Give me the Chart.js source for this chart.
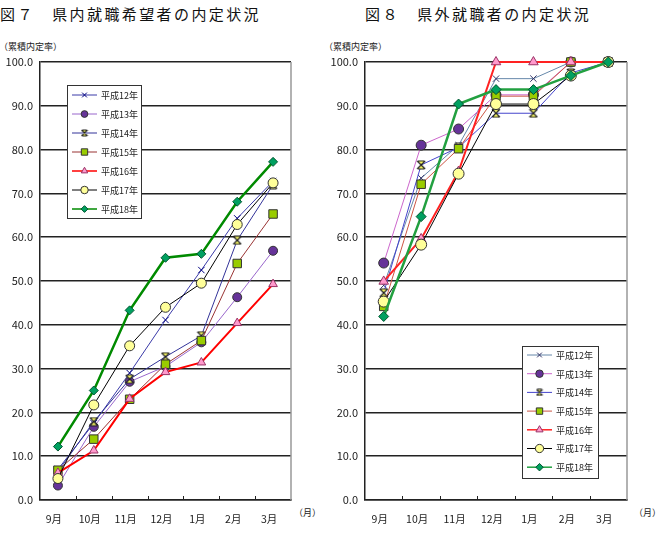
<!DOCTYPE html>
<html>
<head>
<meta charset="utf-8">
<script src="https://cdn.jsdelivr.net/npm/chart.js@4.4.1/dist/chart.umd.min.js"></script>
<style>
  body { margin: 0; width: 657px; height: 550px; background: #fff; position: relative; overflow: hidden;
         font-family: "Noto Sans CJK JP", sans-serif; color: #111; }
  .title { position: absolute; top: 5px; font-size: 15px; line-height: 17px; letter-spacing: 2.4px; white-space: pre; }
  .unit { position: absolute; font-size: 9px; line-height: 10px; color: #222; white-space: pre; }
  canvas { position: absolute; top: 0; }
</style>
</head>
<body>
<div class="title" style="left:0px">図７　県内就職希望者の内定状況</div>
<div class="title" style="left:365px">図８　県外就職者の内定状況</div>
<div class="unit" style="left:-1px;top:42px">（累積内定率）</div>
<div class="unit" style="left:324px;top:42px">（累積内定率）</div>
<div class="unit" style="left:294px;top:508px">（月）</div>
<div class="unit" style="left:634px;top:508px">（月）</div>
<canvas id="naiChart" width="320" height="550" style="left:0px"></canvas>
<canvas id="gaiChart" width="337" height="550" style="left:320px"></canvas>
<script>
// months on the x axis
const months = ['9月', '10月', '11月', '12月', '1月', '2月', '3月'];
const years = ['平成12年', '平成13年', '平成14年', '平成15年', '平成16年', '平成17年', '平成18年'];
const yTicks = [0, 10, 20, 30, 40, 50, 60, 70, 80, 90, 100];

// 図7 県内就職希望者 (cumulative %)
const naiH12 = [7.0, 17.5, 29.0, 41.1, 52.5, 64.3, 72.8];
const naiH13 = [3.3, 16.7, 27.0, 30.5, 36.0, 46.3, 56.9];
const naiH14 = [6.5, 17.9, 27.6, 32.7, 37.5, 59.3, 72.0];
const naiH15 = [6.8, 13.9, 23.0, 31.0, 36.4, 54.0, 65.3];
const naiH16 = [6.2, 11.3, 23.1, 29.2, 31.4, 40.4, 49.3];
const naiH17 = [4.9, 21.7, 35.2, 44.0, 49.5, 62.9, 72.4];
const naiH18 = [12.2, 25.0, 43.3, 55.3, 56.2, 68.1, 77.2];

// 図8 県外就職者 (cumulative %)
const gaiH12 = [49.0, 73.5, 81.0, 96.2, 96.2, 100, 100];
const gaiH13 = [54.1, 81.0, 84.7, 92.5, 92.5, 100, 100];
const gaiH14 = [47.3, 76.5, 80.5, 88.3, 88.3, 97.5, 100];
const gaiH15 = [44.2, 72.1, 80.2, 92.2, 92.2, 100, 100];
const gaiH16 = [49.9, 59.6, 75.0, 100, 100, 100, 100];
const gaiH17 = [45.3, 58.3, 74.5, 90.4, 90.4, 96.9, 100];
const gaiH18 = [41.9, 64.7, 90.4, 93.7, 93.7, 96.9, 100];

// hourglass-ish "star" marker like the Excel one
function starMarker(s) {
  const c = document.createElement('canvas');
  c.width = s; c.height = s;
  const g = c.getContext('2d');
  g.fillStyle = '#ffff66';
  g.beginPath();
  g.moveTo(1, 1); g.lineTo(s - 1, 1); g.lineTo(1, s - 1); g.lineTo(s - 1, s - 1); g.closePath();
  g.fill();
  g.strokeStyle = '#222'; g.lineWidth = 1.2;
  g.beginPath();
  g.moveTo(1, 1); g.lineTo(s - 1, s - 1);
  g.moveTo(s - 1, 1); g.lineTo(1, s - 1);
  g.moveTo(2, 1); g.lineTo(s - 2, 1);
  g.moveTo(2, s - 1); g.lineTo(s - 2, s - 1);
  g.stroke();
  return c;
}
const star = starMarker(10);
const starSmall = starMarker(8);

const naiStyle = [
  { line: '#3a3aa8', w: 1, pt: 'crossRot', fill: '#000080', edge: '#000080', r: 4.5 },
  { line: '#9966cc', w: 1, pt: 'circle', fill: '#663399', edge: '#333', r: 4.5 },
  { line: '#333399', w: 1, pt: star, fill: '#ffff66', edge: '#222', r: 5 },
  { line: '#993333', w: 1, pt: 'rect', fill: '#99cc00', edge: '#333', r: 6 },
  { line: '#ff0000', w: 2, pt: 'triangle', fill: '#ff99cc', edge: '#993366', r: 5 },
  { line: '#000000', w: 1, pt: 'circle', fill: '#ffff99', edge: '#333', r: 5 },
  { line: '#008a00', w: 2.5, pt: 'rectRot', fill: '#00a060', edge: '#005530', r: 4.5 }
];
const gaiStyle = [
  { line: '#6688aa', w: 1, pt: 'crossRot', fill: '#333366', edge: '#333366', r: 4.5 },
  { line: '#cc66cc', w: 1, pt: 'circle', fill: '#663399', edge: '#333', r: 5 },
  { line: '#4444cc', w: 1, pt: star, fill: '#ffff66', edge: '#222', r: 5 },
  { line: '#cc5544', w: 1, pt: 'rect', fill: '#99cc00', edge: '#333', r: 6 },
  { line: '#ff2222', w: 2, pt: 'triangle', fill: '#ff99cc', edge: '#993366', r: 5.5 },
  { line: '#000000', w: 1, pt: 'circle', fill: '#ffff99', edge: '#333', r: 5.5 },
  { line: '#22a040', w: 2.5, pt: 'rectRot', fill: '#00a060', edge: '#005530', r: 5 }
];

function buildSets(series, style) {
  return series.map((vals, i) => ({
    label: years[i],
    data: vals,
    borderColor: style[i].line,
    borderWidth: style[i].w,
    pointStyle: style[i].pt,
    pointRadius: style[i].r,
    pointBackgroundColor: style[i].fill,
    pointBorderColor: style[i].edge,
    pointBorderWidth: 1,
    tension: 0,
    clip: false,
    order: 7 - i
  }));
}

// legend box drawn inside the plot, line + marker per row
const boxLegend = {
  id: 'boxLegend',
  afterDraw(chart, args, o) {
    const ctx = chart.ctx;
    ctx.save();
    ctx.fillStyle = '#fff';
    ctx.fillRect(o.x, o.y, o.w, o.h);
    ctx.strokeStyle = '#333'; ctx.lineWidth = 1;
    ctx.strokeRect(o.x + 0.5, o.y + 0.5, o.w, o.h);
    chart.data.datasets.forEach((ds, i) => {
      const cy = o.y + o.first + i * o.rowH;
      ctx.strokeStyle = ds.borderColor;
      ctx.lineWidth = Math.min(ds.borderWidth, 1.5);
      ctx.beginPath();
      ctx.moveTo(o.x + 5, cy); ctx.lineTo(o.x + 30, cy);
      ctx.stroke();
      const mk = ds.pointStyle === star ? starSmall : ds.pointStyle;
      ctx.fillStyle = ds.pointBackgroundColor;
      ctx.strokeStyle = ds.pointBorderColor;
      ctx.lineWidth = 1;
      Chart.helpers.drawPoint(ctx, { pointStyle: mk, radius: ds.pointRadius * 0.75, rotation: 0, borderWidth: 1 }, o.x + 17.5, cy);
      ctx.fillStyle = '#222';
      ctx.font = '9px "Noto Sans CJK JP"';
      ctx.textBaseline = 'middle';
      ctx.fillText(ds.label, o.x + 34, cy + 0.5);
    });
    ctx.restore();
  }
};

// right edge of the plot and the small inward tick marks on the month axis
const frame = {
  id: 'frame',
  beforeDatasetsDraw(chart) {
    const { ctx, chartArea: a, scales: { x } } = chart;
    ctx.save();
    ctx.strokeStyle = '#999'; ctx.lineWidth = 1.5;
    ctx.beginPath(); ctx.moveTo(a.right, a.top); ctx.lineTo(a.right, a.bottom); ctx.stroke();
    ctx.strokeStyle = '#222'; ctx.lineWidth = 1;
    const half = (x.getPixelForValue(1) - x.getPixelForValue(0)) / 2;
    ctx.beginPath();
    for (let i = 1; i < months.length; i++) {
      const px = Math.round(x.getPixelForValue(i) - half) + 0.5;
      ctx.moveTo(px, a.bottom); ctx.lineTo(px, a.bottom - 4);
    }
    ctx.stroke();
    ctx.restore();
  }
};

function makeChart(id, sets, pad, yw, legendBox) {
  return new Chart(document.getElementById(id), {
    type: 'line',
    data: { labels: months, datasets: sets },
    plugins: [frame, boxLegend],
    options: {
      responsive: false,
      animation: false,
      layout: { padding: pad },
      plugins: { legend: { display: false }, title: { display: false }, tooltip: { enabled: false }, boxLegend: legendBox },
      scales: {
        x: {
          offset: true,
          grid: { display: false },
          border: { display: true, color: '#222', width: 1.5 },
          ticks: { color: '#222', font: { family: '"Noto Sans CJK JP"', size: 10.5 }, padding: 5, labelOffset: -4, maxRotation: 0 },
          afterFit: s => { s.height = 50; }
        },
        y: {
          min: 0, max: 100,
          afterBuildTicks: s => { s.ticks = yTicks.map(v => ({ value: v })); },
          grid: { color: '#222', lineWidth: 1.5, drawTicks: false },
          border: { display: true, color: '#222', width: 1.5 },
          ticks: { color: '#222', font: { family: '"Noto Sans CJK JP"', size: 11 }, padding: 7, callback: v => v.toFixed(1) },
          afterFit: s => { s.width = yw; }
        }
      }
    }
  });
}

makeChart('naiChart',
  buildSets([naiH12, naiH13, naiH14, naiH15, naiH16, naiH17, naiH18], naiStyle),
  { top: 62, right: 29, left: 0, bottom: 0 }, 40,
  { x: 67, y: 85, w: 74, h: 133, first: 10, rowH: 19 });

makeChart('gaiChart',
  buildSets([gaiH12, gaiH13, gaiH14, gaiH15, gaiH16, gaiH17, gaiH18], gaiStyle),
  { top: 62, right: 30, left: 0, bottom: 0 }, 45,
  { x: 202, y: 346, w: 76, h: 132, first: 9, rowH: 18.7 });
</script>
</body>
</html>
